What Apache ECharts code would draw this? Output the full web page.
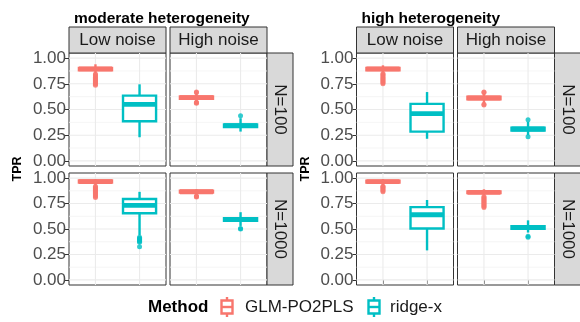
<!DOCTYPE html>
<html>
<head>
<meta charset="utf-8">
<script src="https://cdn.jsdelivr.net/npm/echarts@6/dist/echarts.min.js"></script>
<style>
  html, body { margin: 0; padding: 0; background: #ffffff; }
  #chart { width: 580px; height: 322px; }
</style>
</head>
<body>
<div id="chart"></div>
<script>
// ---- data -------------------------------------------------------------
const methods = ['GLM-PO2PLS', 'ridge-x'];
const noiseLevels = ['Low noise', 'High noise'];
const sampleSizes = ['N=100', 'N=1000'];
const heterogeneityLevels = ['moderate heterogeneity', 'high heterogeneity'];
const yTicks = [0, 0.25, 0.5, 0.75, 1];
const yTickLabels = ['0.00', '0.25', '0.50', '0.75', '1.00'];
const yMinorTicks = [0.125, 0.375, 0.625, 0.875];
const yTitle = 'TPR';
const legendTitle = 'Method';

// facet order: Low noise/N=100, High noise/N=100, Low noise/N=1000, High noise/N=1000
// each box: [lower whisker, Q1, median, Q3, upper whisker]
const glmModerate = [
  [0.855, 0.882, 0.895, 0.905, 0.940],
  [0.575, 0.603, 0.615, 0.627, 0.655],
  [0.930, 0.955, 0.966, 0.976, 0.990],
  [0.835, 0.857, 0.866, 0.875, 0.890]
];
const ridgeModerate = [
  [0.230, 0.385, 0.550, 0.635, 0.745],
  [0.285, 0.330, 0.343, 0.355, 0.415],
  [0.440, 0.655, 0.733, 0.795, 0.865],
  [0.530, 0.580, 0.593, 0.605, 0.665]
];
const glmHigh = [
  [0.860, 0.882, 0.895, 0.905, 0.930],
  [0.560, 0.600, 0.612, 0.624, 0.655],
  [0.930, 0.955, 0.966, 0.975, 0.990],
  [0.830, 0.852, 0.860, 0.870, 0.890]
];
const ridgeHigh = [
  [0.215, 0.285, 0.460, 0.555, 0.670],
  [0.250, 0.296, 0.310, 0.323, 0.380],
  [0.290, 0.505, 0.640, 0.715, 0.785],
  [0.465, 0.502, 0.515, 0.528, 0.585]
];

// outlying points, same facet order
const glmModerateOut = [
  [0.735, 0.745, 0.755, 0.765, 0.775, 0.785, 0.795, 0.805, 0.815, 0.825, 0.835, 0.845],
  [0.560, 0.565, 0.570, 0.665, 0.670],
  [0.810, 0.820, 0.830, 0.840, 0.850, 0.860, 0.870, 0.880, 0.890, 0.900, 0.910, 0.920],
  [0.815, 0.820, 0.825]
];
const ridgeModerateOut = [
  [],
  [0.440],
  [0.325, 0.370, 0.380, 0.390, 0.400, 0.410, 0.420],
  [0.500, 0.505]
];
const glmHighOut = [
  [0.750, 0.760, 0.770, 0.780, 0.790, 0.800, 0.810, 0.820, 0.830, 0.840, 0.850],
  [0.545, 0.550, 0.665, 0.670],
  [0.865, 0.875, 0.885, 0.895, 0.905, 0.915, 0.920],
  [0.710, 0.720, 0.730, 0.740, 0.750, 0.760, 0.770, 0.780, 0.790, 0.800, 0.810, 0.820]
];
const ridgeHighOut = [
  [],
  [0.235, 0.400],
  [],
  [0.420, 0.430]
];

// ---- styling ----------------------------------------------------------
const colors = ['#F8766D', '#00BFC4'];
const FONT = '"Liberation Sans", Arial, Helvetica, sans-serif';
const BOX_LW = 2.4;
const MEDIAN_LW = 4.8;

// panel geometry (px)
const plotOffsets = [0, 287.5];
const colX = [[69, 166], [170, 267]];
const rowY = [[53, 166], [173, 285]];
const stripTop = 27;
const stripSize = 26;

const boxSets = [[glmModerate, ridgeModerate], [glmHigh, ridgeHigh]];
const outSets = [[glmModerateOut, ridgeModerateOut], [glmHighOut, ridgeHighOut]];

const grids = [], xAxes = [], yAxes = [], series = [], graphics = [], titles = [];

function renderGridLines(params, api) {
  const cs = params.coordSys;
  const kind = api.value(0);
  const v = api.value(1);
  const major = api.value(2) === 1;
  const style = { stroke: major ? '#EBEBEB' : '#F3F3F3', lineWidth: major ? 1.1 : 0.8 };
  if (kind === 0) {
    const y = api.coord([1, v])[1];
    return { type: 'line', shape: { x1: cs.x, y1: y, x2: cs.x + cs.width, y2: y }, style };
  }
  const x = api.coord([v, 0])[0];
  return { type: 'line', shape: { x1: x, y1: cs.y, x2: x, y2: cs.y + cs.height }, style };
}

function renderBox(params, api) {
  const xv = api.value(0);
  const lo = api.coord([xv, api.value(1)]);
  const q1 = api.coord([xv, api.value(2)]);
  const md = api.coord([xv, api.value(3)]);
  const q3 = api.coord([xv, api.value(4)]);
  const hi = api.coord([xv, api.value(5)]);
  const w = api.size([0.75, 0])[0];
  const cx = lo[0];
  const color = colors[xv - 1];
  const line = { stroke: color, lineWidth: BOX_LW };
  return {
    type: 'group',
    children: [
      { type: 'line', shape: { x1: cx, y1: hi[1], x2: cx, y2: q3[1] }, style: line },
      { type: 'line', shape: { x1: cx, y1: q1[1], x2: cx, y2: lo[1] }, style: line },
      { type: 'rect', shape: { x: cx - w / 2, y: q3[1], width: w, height: q1[1] - q3[1] },
        style: { fill: '#ffffff', stroke: color, lineWidth: BOX_LW } },
      { type: 'line', shape: { x1: cx - w / 2, y1: md[1], x2: cx + w / 2, y2: md[1] },
        style: { stroke: color, lineWidth: MEDIAN_LW } }
    ]
  };
}

const gridLineData = [];
yTicks.forEach(v => gridLineData.push([0, v, 1]));
yMinorTicks.forEach(v => gridLineData.push([0, v, 0]));
methods.forEach((m, i) => gridLineData.push([1, i + 1, 1]));

heterogeneityLevels.forEach((het, p) => {
  const off = plotOffsets[p];
  titles.push({
    text: het, left: colX[0][0] + off, top: 6,
    textStyle: { fontFamily: FONT, fontSize: 15.5, fontWeight: 'bold', color: '#000' }
  });
  // y-axis title
  graphics.push({
    type: 'text', x: 18 + off, y: (rowY[0][0] + rowY[1][1]) / 2, rotation: Math.PI / 2,
    style: { text: yTitle, font: 'bold 12.5px ' + FONT, fill: '#000', textAlign: 'center', textVerticalAlign: 'middle' }
  });
  // column strips
  noiseLevels.forEach((nl, c) => {
    const x0 = colX[c][0] + off, x1 = colX[c][1] + off;
    graphics.push({
      type: 'rect', shape: { x: x0, y: stripTop, width: x1 - x0, height: rowY[0][0] - stripTop },
      style: { fill: '#D9D9D9', stroke: '#333333', lineWidth: 1 }
    });
    graphics.push({
      type: 'text', x: (x0 + x1) / 2, y: (stripTop + rowY[0][0]) / 2,
      style: { text: nl, font: '17px ' + FONT, fill: '#1A1A1A', textAlign: 'center', textVerticalAlign: 'middle' }
    });
  });
  // row strips
  sampleSizes.forEach((ss, r) => {
    const x0 = colX[1][1] + off;
    graphics.push({
      type: 'rect', shape: { x: x0, y: rowY[r][0], width: stripSize, height: rowY[r][1] - rowY[r][0] },
      style: { fill: '#D9D9D9', stroke: '#333333', lineWidth: 1 }
    });
    graphics.push({
      type: 'text', x: x0 + stripSize / 2, y: (rowY[r][0] + rowY[r][1]) / 2, rotation: -Math.PI / 2,
      style: { text: ss, font: '17px ' + FONT, fill: '#1A1A1A', textAlign: 'center', textVerticalAlign: 'middle' }
    });
  });

  sampleSizes.forEach((ss, r) => {
    noiseLevels.forEach((nl, c) => {
      const facet = r * 2 + c;
      const gi = grids.length;
      grids.push({
        left: colX[c][0] + off, top: rowY[r][0],
        width: colX[c][1] - colX[c][0], height: rowY[r][1] - rowY[r][0],
        show: true, backgroundColor: '#ffffff', borderColor: '#333333', borderWidth: 1, z: 0
      });
      xAxes.push({
        type: 'value', gridIndex: gi, min: 0.4, max: 2.6,
        axisLine: { show: false }, splitLine: { show: false },
        axisLabel: { show: false, customValues: [1, 2] },
        axisTick: { show: r === 1, customValues: [1, 2], length: 4, lineStyle: { color: '#333333', width: 1 } }
      });
      yAxes.push({
        type: 'value', gridIndex: gi, min: -0.05, max: 1.05,
        axisLine: { show: false }, splitLine: { show: false },
        axisLabel: {
          show: c === 0, customValues: yTicks, margin: 3,
          formatter: v => yTickLabels[yTicks.findIndex(t => Math.abs(t - v) < 1e-9)] ?? '',
          fontFamily: FONT, fontSize: 17, color: '#4D4D4D'
        },
        axisTick: { show: c === 0, customValues: yTicks, length: 4, lineStyle: { color: '#333333', width: 1 } }
      });
      series.push({
        type: 'custom', xAxisIndex: gi, yAxisIndex: gi, silent: true, z: 1,
        renderItem: renderGridLines, data: gridLineData, encode: { x: -1, y: -1 }
      });
      const boxData = methods.map((m, k) => [k + 1].concat(boxSets[p][k][facet]));
      series.push({
        type: 'custom', name: het + ' ' + nl + ' ' + ss, xAxisIndex: gi, yAxisIndex: gi, z: 3,
        renderItem: renderBox, data: boxData, encode: { x: 0, y: [1, 2, 3, 4, 5] }
      });
      const outData = [];
      methods.forEach((m, k) => {
        outSets[p][k][facet].forEach(v => outData.push({ value: [k + 1, v], itemStyle: { color: colors[k] } }));
      });
      series.push({
        type: 'scatter', xAxisIndex: gi, yAxisIndex: gi, z: 4, symbolSize: 5,
        data: outData, silent: true
      });
    });
  });
});

// legend
const legendY = 307;
graphics.push({
  type: 'text', x: 148, y: legendY,
  style: { text: legendTitle, font: 'bold 17px ' + FONT, fill: '#000', textAlign: 'left', textVerticalAlign: 'middle' }
});
const legendKeys = [{ cx: 227, tx: 245 }, { cx: 374, tx: 390 }];
methods.forEach((m, k) => {
  const cx = legendKeys[k].cx, col = colors[k];
  graphics.push({
    type: 'group', children: [
      { type: 'line', shape: { x1: cx, y1: legendY - 10, x2: cx, y2: legendY + 10 }, style: { stroke: col, lineWidth: BOX_LW } },
      { type: 'rect', shape: { x: cx - 5.5, y: legendY - 6.5, width: 11, height: 13 }, style: { fill: '#fff', stroke: col, lineWidth: BOX_LW } },
      { type: 'line', shape: { x1: cx - 5.5, y1: legendY, x2: cx + 5.5, y2: legendY }, style: { stroke: col, lineWidth: BOX_LW } }
    ]
  });
  graphics.push({
    type: 'text', x: legendKeys[k].tx, y: legendY,
    style: { text: m, font: '17px ' + FONT, fill: '#1A1A1A', textAlign: 'left', textVerticalAlign: 'middle' }
  });
});

const chart = echarts.init(document.getElementById('chart'), null, { renderer: 'canvas' });
chart.setOption({
  backgroundColor: '#ffffff',
  animation: false,
  title: titles,
  grid: grids,
  xAxis: xAxes,
  yAxis: yAxes,
  series: series,
  graphic: { elements: graphics }
});
</script>
</body>
</html>
